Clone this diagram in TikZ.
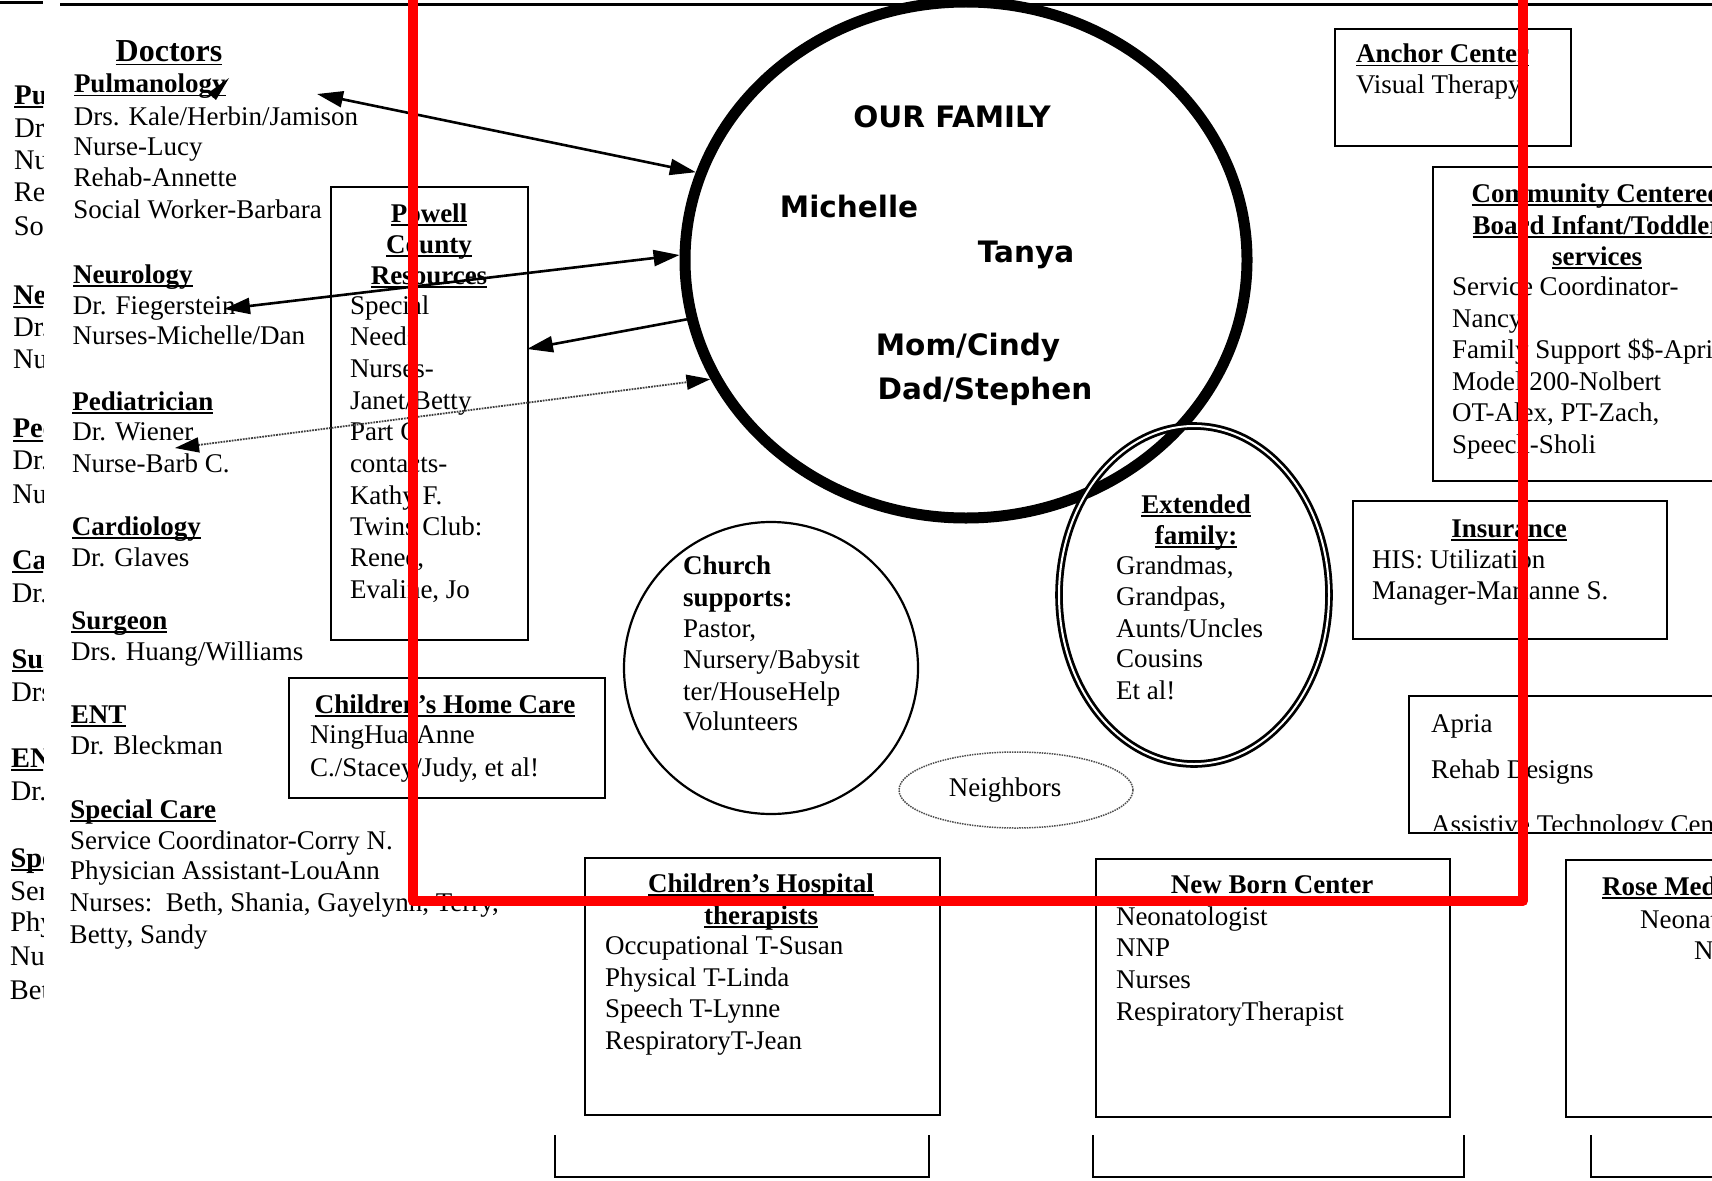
\documentclass[tikz,border=0pt]{standalone}
\usepackage{fontspec}
\setmainfont{Liberation Serif}
\newfontfamily\comicfont{DejaVu Sans}
\usetikzlibrary{shapes.geometric,arrows.meta}
\newcommand{\myul}[1]{{\setbox0=\hbox{#1}\rlap{\rule[-3.5pt]{\wd0}{1.6pt}}\box0}}
\newcommand{\myhd}[1]{{\bfseries\myul{#1}}}
\tikzset{
 txt/.style={anchor=base west, inner sep=0pt, outer sep=0pt, font=\fontsize{27}{31}\selectfont},
 ctxt/.style={txt, anchor=base},
 bx/.style={draw, line width=2.2pt, anchor=north west, inner sep=0pt},
 famtxt/.style={font=\comicfont\bfseries\fontsize{29.5}{34}\selectfont, inner sep=0pt},
 arr/.style={line width=2.6pt, arrows={Triangle[length=26pt,width=16pt]-Triangle[length=26pt,width=16pt]}},
 arrone/.style={line width=2.6pt, arrows={-Triangle[length=26pt,width=16pt]}},
 dotarr/.style={line width=1.8pt, black!75, densely dotted, arrows={Triangle[length=24pt,width=15pt,black]-Triangle[length=24pt,width=15pt,black]}},
}
\def\doclist{93/{\myhd{Pulmanology}}, 125/{Drs. Kale/Herbin/Jamison}, 155/{Nurse-Lucy}, 186/{Rehab-Annette}, 218/{Social Worker-Barbara}, 283/{\myhd{Neurology}}, 314/{Dr. Fiegerstein}, 344/{Nurses-Michelle/Dan}, 410/{\myhd{Pediatrician}}, 440/{Dr. Wiener}, 472/{Nurse-Barb C.}, 535/{\myhd{Cardiology}}, 566/{Dr. Glaves}, 629/{\myhd{Surgeon}}, 660/{Drs. Huang/Williams}, 723/{\myhd{ENT}}, 754/{Dr. Bleckman}, 818/{\myhd{Special Care}}, 849/{Service Coordinator-Corry N.}, 879/{Physician Assistant-LouAnn}, 911/{Nurses:\ \ Beth, Shania, Gayelynn, Terry,}, 943/{Betty, Sandy}}
\begin{document}
\begin{tikzpicture}[x=1pt,y=-1pt]
\useasboundingbox (0,0) rectangle (1712,1180);
\fill[white] (0,0) rectangle (1712,1180);
\clip (0,0) rectangle (1712,1180);

% top rule
\draw[line width=3pt] (0,3) -- (43,3);
\draw[line width=3pt] (60,5) -- (1712,5);

% left clipped copy of the doctors list
\begin{scope}
\clip (0,0) rectangle (43,1180);
\begin{scope}[shift={(-63.5,6.1)}, scale=1.053, transform shape]
\foreach \dy/\dtext in \doclist {
  \node[txt] (c\dy) at ({74-0.005*(\dy-93)},\dy) {\dtext};
}
\end{scope}
\end{scope}

% doctors list
\node[ctxt, font=\bfseries\fontsize{32}{36}\selectfont] (dochd) at (169,62) {\myul{Doctors}};
\foreach \dy/\dtext in \doclist {
  \node[txt] (d\dy) at ({74-0.005*(\dy-93)},\dy) {\dtext};
}
\fill (229,78) -- (208,93) -- (216,100) -- cycle;

% Powell County box
\node[bx, minimum width=197pt, minimum height=453pt] (pow) at (330,186) {};
\node[ctxt] (pow1) at (429,222) {\myhd{Powell}};
\node[ctxt] (pow2) at (429,253) {\myhd{County}};
\node[ctxt] (pow3) at (429,284) {\myhd{Resources}};
\foreach \dy/\dtext [count=\i] in {314/{Special}, 345/{Needs}, 377/{Nurses-}, 409/{Janet/Betty}, 440/{Part C}, 472/{contacts-}, 504/{Kathy F.}, 535/{Twins Club:}, 566/{Renee,}, 598/{Evaline, Jo}} {
  \node[txt] (powl\i) at (350,\dy) {\dtext};
}

% Children's Home Care
\node[bx, minimum width=316pt, minimum height=120pt] (chc) at (288,677) {};
\node[ctxt] (chc1) at (445,713) {\myhd{Children's Home Care}};
\node[txt] (chc2) at (310,743) {NingHua/Anne};
\node[txt] (chc3) at (310,776) {C./Stacey/Judy, et al!};

% Our family
\node[ellipse, draw, line width=11pt, minimum width=562pt, minimum height=516pt, inner sep=0pt] (fam) at (966,260) {};
\node[famtxt] (ourfam) at (952,117) {OUR FAMILY};
\node[famtxt] (mich) at (849,207) {Michelle};
\node[famtxt] (tanya) at (1026,255) {Tanya};
\node[famtxt] (mom) at (968,347) {Mom/Cindy};
\node[famtxt] (dad) at (985,391) {Dad/Stephen};

% Church
\node[ellipse, draw, line width=2.2pt, minimum width=294pt, minimum height=292pt, inner sep=0pt] (church) at (771,668) {};
\node[txt] (ch1) at (683,574) {\textbf{Church}};
\node[txt] (ch2) at (683,606) {\textbf{supports:}};
\node[txt] (ch3) at (683,637) {Pastor,};
\node[txt] (ch4) at (683,668) {Nursery/Babysit};
\node[txt] (ch5) at (683,700) {ter/HouseHelp};
\node[txt] (ch6) at (683,730) {Volunteers};

% Neighbors
\node[ellipse, draw=black!70, densely dotted, line width=1.5pt, minimum width=234pt, minimum height=76pt, inner sep=0pt] (nbr) at (1016,790) {};
\node[font=\fontsize{27}{31}\selectfont, inner sep=0pt] (nbrt) at (1005,790) {Neighbors};

% Extended family
\node[ellipse, draw, line width=2.8pt, double, double distance=2pt, minimum width=270pt, minimum height=338pt, inner sep=0pt] (ext) at (1194,595) {};
\node[ctxt] (ex1) at (1196,513) {\myhd{Extended}};
\node[ctxt] (ex2) at (1196,544) {\myhd{family:}};
\node[txt] (ex3) at (1116,574) {Grandmas,};
\node[txt] (ex4) at (1116,605) {Grandpas,};
\node[txt] (ex5) at (1116,637) {Aunts/Uncles};
\node[txt] (ex6) at (1116,667) {Cousins};
\node[txt] (ex7) at (1116,699) {Et al!};

% Anchor Center
\node[bx, minimum width=236pt, minimum height=117pt] (anc) at (1334,28) {};
\node[txt] (anc1) at (1356,63) {\myhd{Anchor Center}};
\node[txt] (anc2) at (1356,94) {Visual Therapy};

% Community Centered Board
\node[bx, minimum width=320pt, minimum height=314pt] (ccb) at (1432,166) {};
\node[ctxt] (ccb1) at (1597,202) {\myhd{Community Centered}};
\node[ctxt] (ccb2) at (1597,234) {\myhd{Board Infant/Toddler}};
\node[ctxt] (ccb3) at (1597,265) {\myhd{services}};
\foreach \dy/\dtext [count=\i] in {295/{Service Coordinator-}, 327/{Nancy}, 358/{Family Support \$\$-April}, 390/{Model 200-Nolbert}, 421/{OT-Alex, PT-Zach,}, 453/{Speech-Sholi}} {
  \node[txt] (ccbl\i) at (1452,\dy) {\dtext};
}

% Insurance
\node[bx, minimum width=314pt, minimum height=138pt] (ins) at (1352,500) {};
\node[ctxt] (ins1) at (1509,537) {\myhd{Insurance}};
\node[txt] (ins2) at (1372,568) {HIS: Utilization};
\node[txt] (ins3) at (1372,599) {Manager-Marianne S.};

% Apria
\begin{scope}
\clip (1408,695) rectangle (1712,830);
\node[txt] (ap1) at (1431,732) {Apria};
\node[txt] (ap2) at (1431,778) {Rehab Designs};
\node[txt] (ap3) at (1431,833) {Assistive Technology Center};
\end{scope}
\node[bx, minimum width=330pt, minimum height=137pt] (apr) at (1408,695) {};

% Children's Hospital
\node[bx, minimum width=355pt, minimum height=257pt] (chh) at (584,857) {};
\node[ctxt] (chh1) at (761,892) {\myhd{Children's Hospital}};
\node[ctxt] (chh2) at (761,924) {\myhd{therapists}};
\node[txt] (chh3) at (605,954) {Occupational T-Susan};
\node[txt] (chh4) at (605,986) {Physical T-Linda};
\node[txt] (chh5) at (605,1017) {Speech T-Lynne};
\node[txt] (chh6) at (605,1049) {RespiratoryT-Jean};

% New Born Center
\node[bx, minimum width=354pt, minimum height=258pt] (nbc) at (1095,858) {};
\node[ctxt] (nbc1) at (1272,893) {\textbf{New Born Center}};
\node[txt] (nbc2) at (1116,925) {Neonatologist};
\node[txt] (nbc3) at (1116,956) {NNP};
\node[txt] (nbc4) at (1116,988) {Nurses};
\node[txt] (nbc5) at (1116,1020) {RespiratoryTherapist};

% Rose Medical
\node[bx, minimum width=300pt, minimum height=257pt] (rose) at (1565,859) {};
\node[txt] (rose1) at (1602,895) {\myhd{Rose Medical Center}};
\node[txt] (rose2) at (1640,928) {Neonatologist};
\node[txt] (rose3) at (1694,959) {NNP};

% bottom partial boxes
\draw[line width=2.2pt] (555,1135) -- (555,1177) -- (929,1177) -- (929,1135);
\draw[line width=2.2pt] (1093,1135) -- (1093,1177) -- (1464,1177) -- (1464,1135);
\draw[line width=2.2pt] (1591,1135) -- (1591,1177) -- (1730,1177);

% connectors
\coordinate (pulmtip) at (317,94);
\coordinate (fiegtip) at (224,309);
\coordinate (powtip) at (527,349);
\coordinate (wientip) at (175,448);
\draw[arr] (pulmtip) -- (fam.162);
\draw[arr] (fiegtip) -- (fam.179);
\draw[arrone] (fam.192) -- (powtip);
\draw[dotarr] (wientip) -- (fam.205);

% red frame
\draw[red, line width=10pt, line join=round] (413,-20) -- (413,901) -- (1523,901) -- (1523,-20);
\end{tikzpicture}
\end{document}
